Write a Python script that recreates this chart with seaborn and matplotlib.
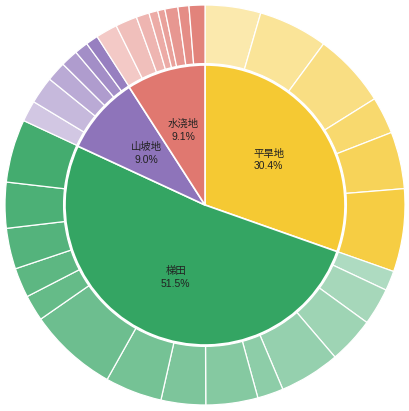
import matplotlib
matplotlib.use("Agg")
import matplotlib.pyplot as plt
import matplotlib.colors as mcolors
import seaborn as sns
import numpy as np

sns.set_theme(style="white")
plt.rcParams['font.family'] = ['Liberation Sans', 'Noto Sans CJK SC', 'DejaVu Sans']

# Inner ring categories
categories = ["平旱地", "梯田", "山坡地", "水浇地"]
inner_values = [30.4, 51.5, 9.0, 9.1]
base_colors = ["#F5C933", "#34A563", "#8E74BA", "#E07870"]

# Outer ring sub-shares (percent of total), per category, in clockwise order
outer_pinghan = [4.5, 5.6, 6.0, 3.0, 4.6, 6.7]
outer_titian = [1.6, 3.0, 3.75, 4.9, 2.1, 4.2, 3.6, 4.6, 7.2, 2.1, 2.4, 3.3, 3.7, 5.1]
outer_shanpo = [1.7, 2.2, 1.6, 1.4, 1.1, 1.0]
outer_shuijiao = [1.75, 1.75, 1.05, 0.72, 0.58, 1.05, 0.89, 1.28]
outer_groups = [outer_pinghan, outer_titian, outer_shanpo, outer_shuijiao]


def blend(color, alpha):
    r, g, b = mcolors.to_rgb(color)
    return (1 - alpha + alpha * r, 1 - alpha + alpha * g, 1 - alpha + alpha * b)


outer_values = []
outer_colors = []
for grp, base in zip(outer_groups, base_colors):
    n = len(grp)
    alphas = np.linspace(0.4, 0.92, n)
    for v, a in zip(grp, alphas):
        outer_values.append(v)
        outer_colors.append(blend(base, a))

fig = plt.figure(figsize=(4.09, 4.11), dpi=100)
ax = fig.add_axes([0, 0, 1, 1])

ax.pie(outer_values, radius=1.0, colors=outer_colors, startangle=90,
       counterclock=False,
       wedgeprops=dict(width=0.293, edgecolor="white", linewidth=0.9))

wedges, _ = ax.pie(inner_values, radius=0.70, colors=base_colors, startangle=90,
                   counterclock=False,
                   wedgeprops=dict(edgecolor="white", linewidth=1.2))

total = sum(inner_values)
cum = 0
for name, v in zip(categories, inner_values):
    mid = (cum + v / 2) / total * 360
    cum += v
    theta = np.deg2rad(90 - mid)
    r = 0.39
    ax.text(r * np.cos(theta), r * np.sin(theta), f"{name}\n{v:.1f}%",
            ha="center", va="center", fontsize=7.5, color="#222222",
            linespacing=1.35)

ax.set_xlim(-205 / 200, 204 / 200)
ax.set_ylim(-206 / 200, 205 / 200)
ax.set_aspect("auto")
ax.axis("off")

fig.savefig("out.png", dpi=100, facecolor="white")
